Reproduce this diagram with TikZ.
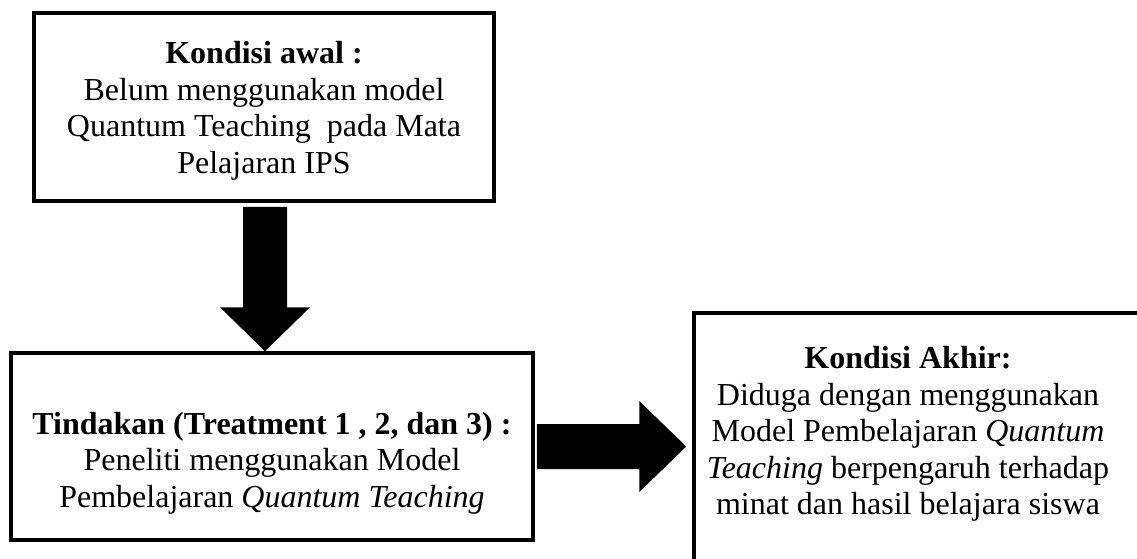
\documentclass[tikz,border=0pt]{standalone}
\usepackage{fontspec}
\setmainfont{Liberation Serif}
\usetikzlibrary{calc}
\begin{document}
\begin{tikzpicture}[x=1pt,y=-1pt,
  frame/.style={draw=black,line width=3.5pt,rectangle,inner sep=0pt},
  boxtext/.style={align=center,font=\fontsize{32}{36.5}\selectfont,inner sep=0pt},
  blockarrow/.style={fill=black}]
\useasboundingbox (0,0) rectangle (1137,558);
\clip (0,0) rectangle (1137,558);

% frames
\node[frame,minimum width=460,minimum height=188] (b1) at (264,107) {};
\node[frame,minimum width=522,minimum height=187] (b2) at (272,446.5) {};
\node[frame,minimum width=460,minimum height=260] (b3) at (924,443) {};

% texts
\node[boxtext] (t1) at (264,111) {\textbf{Kondisi awal :}\\Belum menggunakan model\\Quantum Teaching\ \ pada Mata\\Pelajaran IPS};
\node[boxtext] (t2) at (272,463) {\textbf{Tindakan (Treatment 1 , 2, dan 3) :}\\Peneliti menggunakan Model\\Pembelajaran \textit{Quantum Teaching}};
\node[boxtext] (t3) at (908,434) {\textbf{Kondisi Akhir:}\\Diduga dengan menggunakan\\Model Pembelajaran \textit{Quantum}\\\textit{Teaching} berpengaruh terhadap\\minat dan hasil belajara siswa};

% downward block arrow
\coordinate (dtop) at ($(b1.south)+(1,4)$);
\coordinate (dtip) at (dtop |- b2.north);
\fill[blockarrow] ($(dtop)+(-22,0)$) -- ($(dtop)+(22,0)$) -- ($(dtip)+(22,-44)$)
  -- ($(dtip)+(45,-44)$) -- (dtip) -- ($(dtip)+(-45,-44)$) -- ($(dtip)+(-22,-44)$) -- cycle;

% rightward block arrow
\coordinate (rtail) at ($(b2.east)+(2,0)$);
\coordinate (rtip) at ($(b3.west |- b2.east)+(-6,0)$);
\fill[blockarrow] ($(rtail)+(0,-22.5)$) -- ($(rtip)+(-47,-22.5)$) -- ($(rtip)+(-47,-45.5)$)
  -- (rtip) -- ($(rtip)+(-47,45.5)$) -- ($(rtip)+(-47,22.5)$) -- ($(rtail)+(0,22.5)$) -- cycle;
\end{tikzpicture}
\end{document}
